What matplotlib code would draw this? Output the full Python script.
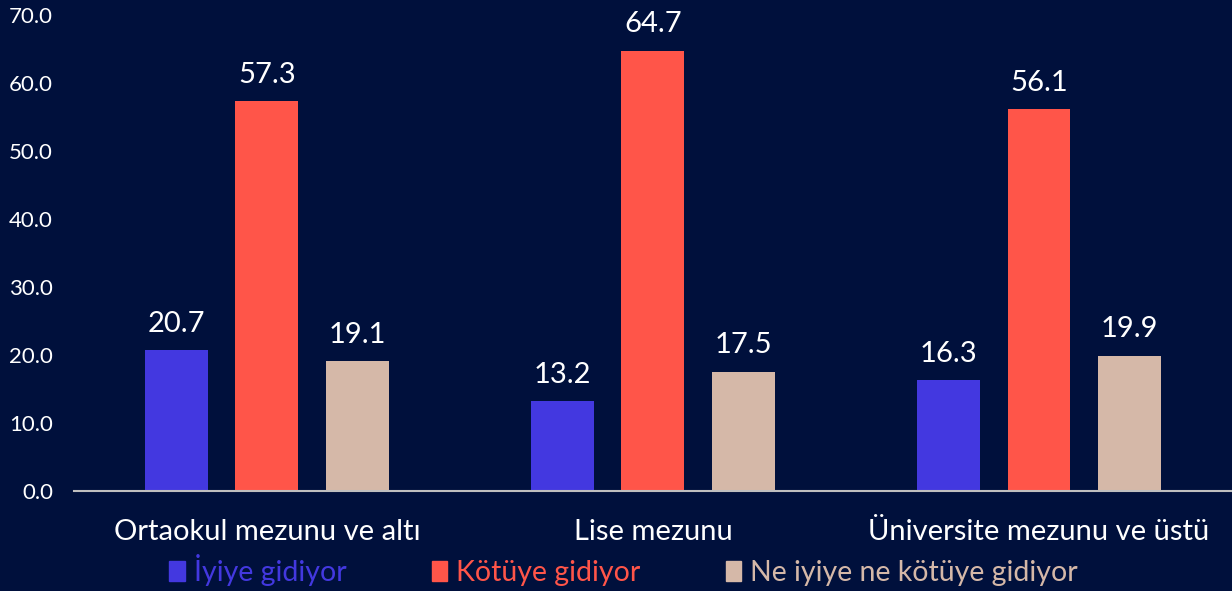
import numpy as np
import matplotlib.pyplot as plt
from matplotlib.patches import Patch

# Veriler
categories = ["Ortaokul mezunu ve altı", "Lise mezunu", "Üniversite mezunu ve üstü"]
series_names = ["İyiye gidiyor", "Kötüye gidiyor", "Ne iyiye ne kötüye gidiyor"]
iyiye = [20.7, 13.2, 16.3]
kotuye = [57.3, 64.7, 56.1]
ne_ne = [19.1, 17.5, 19.9]
y_ticks = [0, 10, 20, 30, 40, 50, 60, 70]

bg = "#00103C"
colors = ["#4338E0", "#FF5549", "#D5B8A8"]

plt.rcParams['font.family'] = ['Lato', 'DejaVu Sans']

fig = plt.figure(figsize=(12.32, 5.91), dpi=100, facecolor=bg)
ax = fig.add_axes([0.060, 0.169, 0.940, 0.806], facecolor=bg)

x = np.arange(len(categories))
width = 0.163
offset = 0.235

for i, (vals, col) in enumerate(zip([iyiye, kotuye, ne_ne], colors)):
    bars = ax.bar(x + (i - 1) * offset, vals, width, color=col)
    for b, v in zip(bars, vals):
        ax.text(b.get_x() + b.get_width() / 2, v + 2.0, f"{v:.1f}",
                ha='center', va='bottom', color='white', fontsize=21)

ax.set_xlim(-0.5, 2.5)
ax.set_ylim(0, 70)
ax.set_yticks(y_ticks)
ax.set_yticklabels([f"{t:.1f}" for t in y_ticks])
ax.set_xticks(x)
ax.set_xticklabels(categories)
ax.tick_params(axis='y', length=0, pad=15, labelsize=16, labelcolor='white')
ax.tick_params(axis='x', length=0, pad=20, labelsize=21, labelcolor='white')

for s in ['top', 'right', 'left']:
    ax.spines[s].set_visible(False)
ax.spines['bottom'].set_color('#BFBFBF')
ax.spines['bottom'].set_linewidth(1.5)

handles = [Patch(color=c) for c in colors]
leg = fig.legend(handles, series_names, loc='center', bbox_to_anchor=(0.506, 0.035),
                 ncol=3, frameon=False, fontsize=20.5, handlelength=0.55, handleheight=0.7,
                 handletextpad=0.3, columnspacing=3.0)
for t, c in zip(leg.get_texts(), colors):
    t.set_color(c)

fig.savefig("out.png", dpi=100, facecolor=bg)
